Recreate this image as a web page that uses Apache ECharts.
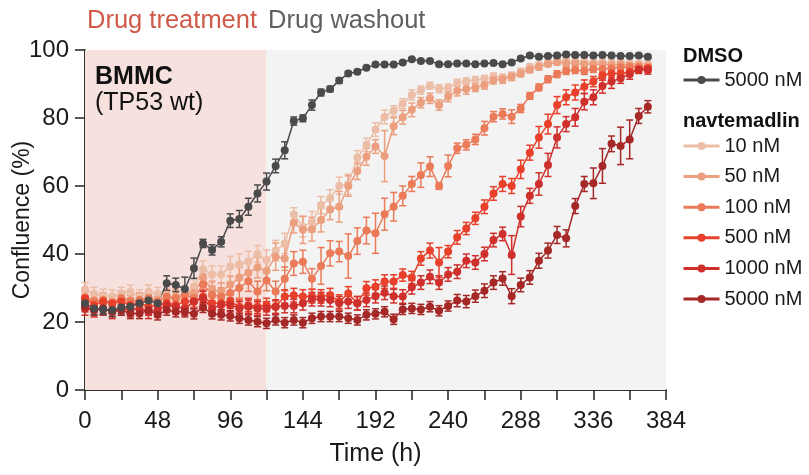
<!DOCTYPE html>
<html>
<head>
<meta charset="utf-8">
<script src="https://cdn.jsdelivr.net/npm/echarts@6/dist/echarts.min.js"></script>
<style>
html, body { margin: 0; padding: 0; background: #fff; }
#chart { width: 809px; height: 475px; }
</style>
</head>
<body>
<div id="chart"></div>
<script>
// time points (h)
var hours = [0, 6, 12, 18, 24, 30, 36, 42, 48, 54, 60, 66, 72, 78, 84, 90, 96, 102, 108, 114,
  120, 126, 132, 138, 144, 150, 156, 162, 168, 174, 180, 186, 192, 198, 204, 210, 216, 222, 228, 234,
  240, 246, 252, 258, 264, 270, 276, 282, 288, 294, 300, 306, 312, 318, 324, 330, 336, 342, 348, 354,
  360, 366, 372];

// treatment / washout phases (h)
var phases = [[0, 120], [120, 384]];
var phaseNames = ['Drug treatment', 'Drug washout'];

// confluence (%) and error
var dmso = [25.5, 24.0, 23.7, 23.5, 24.3, 24.5, 25.5, 26.3, 25.5, 31.4,
  30.9, 29.7, 35.8, 43.1, 41.2, 43.6, 49.8, 50.3, 53.9, 57.8,
  61.3, 65.9, 70.5, 79.1, 79.9, 83.8, 87.5, 88.5, 91.0, 93.1,
  93.6, 94.8, 95.7, 95.7, 95.7, 96.3, 97.3, 96.8, 96.8, 95.8,
  95.8, 96.0, 96.0, 95.8, 96.0, 96.2, 95.8, 96.3, 97.5, 98.4,
  98.0, 98.2, 98.4, 98.7, 98.5, 98.5, 98.4, 98.5, 98.4, 98.2,
  98.2, 98.4, 98.0];
var dmsoErr = [1.5, 1.8, 1.5, 1.8, 1.8, 2.5, 2, 1.8, 2, 2.2,
  2, 3.5, 3, 1.2, 1.5, 1.5, 2, 2.5, 2.5, 2.5,
  2.5, 2, 2.5, 1.2, 1, 1.5, 1, 0.8, 0.8, 0.6,
  0.5, 0.4, 0.4, 0.4, 0.4, 0.4, 0.4, 0.4, 0.4, 0.4,
  0.4, 0.4, 0.4, 0.4, 0.4, 0.4, 0.4, 0.4, 0.4, 0.4,
  0.4, 0.4, 0.4, 0.4, 0.4, 0.4, 0.4, 0.4, 0.4, 0.4,
  0.4, 0.4, 0.4];

var nav10 = [29.6, 28.2, 27.6, 27.5, 28.2, 28.9, 27.5, 28.9, 28.2, 28.0,
  25.8, 27.5, 30.4, 35.5, 34.0, 34.0, 36.3, 37.0, 37.8, 40.0,
  38.2, 41.0, 43.1, 51.6, 48.0, 49.5, 54.4, 56.4, 60.1, 60.5,
  68.4, 72.1, 76.6, 80.3, 82.1, 84.2, 86.8, 88.2, 89.5, 88.6,
  88.8, 90.4, 90.8, 91.2, 91.5, 92.2, 91.9, 92.4, 93.6, 95.1,
  95.6, 96.3, 96.8, 96.8, 96.8, 96.5, 96.5, 96.5, 96.3, 96.5,
  96.2, 96.0, 96.0];
var nav10Err = [2, 2, 2, 2, 2, 2, 2, 2, 2, 2,
  2, 2, 2.5, 2.5, 2.5, 2.5, 3, 3, 3, 2.5,
  3, 3, 3, 2, 3, 3, 2.5, 2.5, 2.5, 3,
  2, 2, 2, 2, 1.5, 1.5, 1.5, 1.2, 1, 1.2,
  1.2, 1, 1, 1, 1, 1, 1, 1, 1, 0.8,
  0.8, 0.8, 0.8, 0.8, 0.8, 0.8, 0.8, 0.8, 0.8, 0.8,
  0.8, 0.8, 0.8];

var nav50 = [27.5, 26.5, 26.0, 26.0, 27.0, 26.5, 26.0, 27.0, 26.5, 27.0,
  27.5, 28.0, 28.5, 33.0, 29.5, 29.0, 31.0, 33.0, 34.5, 36.0,
  35.0, 39.2, 38.7, 49.2, 47.1, 47.3, 50.0, 53.1, 53.9, 60.0,
  64.4, 68.6, 71.6, 68.8, 77.6, 80.2, 82.4, 84.5, 85.8, 83.8,
  86.3, 88.0, 88.5, 89.0, 89.7, 91.2, 91.4, 92.2, 93.1, 94.3,
  95.1, 95.9, 96.4, 96.0, 96.0, 95.8, 95.8, 95.8, 95.6, 95.8,
  95.5, 95.5, 95.3];
var nav50Err = [2, 2, 2, 2, 2, 2, 2, 2, 2, 2,
  2, 2, 2.5, 2.5, 2.5, 2.5, 2.5, 3, 3, 3,
  3, 4, 3.5, 3, 4, 3.5, 3.5, 3, 4.5, 3,
  2.5, 2.5, 2, 7.5, 2.5, 2, 2, 1.5, 1.5, 1.5,
  1.5, 1.5, 1.5, 1.2, 1.2, 1.2, 1.2, 1.2, 1, 1,
  1, 0.8, 0.8, 0.8, 0.8, 0.8, 0.8, 0.8, 0.8, 0.8,
  0.8, 0.8, 0.8];

var nav100 = [27.0, 26.0, 26.5, 25.5, 27.0, 26.0, 26.5, 27.0, 26.0, 27.5,
  27.0, 28.0, 27.0, 31.0, 28.0, 27.5, 28.5, 30.0, 32.0, 29.0,
  32.2, 29.0, 32.7, 37.2, 37.7, 32.7, 36.5, 40.2, 40.7, 39.4,
  43.8, 46.9, 46.1, 51.7, 53.9, 57.1, 60.6, 63.2, 65.7, 60.0,
  65.9, 71.1, 72.1, 73.7, 77.0, 80.4, 81.2, 80.4, 82.8, 86.5,
  89.0, 91.4, 92.9, 93.8, 94.1, 93.8, 94.4, 94.4, 94.6, 94.9,
  95.0, 95.0, 94.8];
var nav100Err = [2, 2, 2, 2, 2, 2, 2, 2, 2, 2,
  2, 2, 2.5, 3, 2.5, 2.5, 3, 3, 3, 3,
  3, 3, 3.5, 3.5, 3.4, 3, 5.4, 3.7, 3, 6.5,
  3.9, 3.9, 5.9, 4.7, 4.2, 2.9, 2.2, 3.6, 2.9, 1,
  3.2, 1.5, 1.5, 1.5, 2, 1.5, 1.5, 2, 1.2, 1,
  1, 1, 1, 1, 1, 1, 1, 1, 1, 1,
  1, 1, 1];

var nav500 = [27.0, 25.0, 26.0, 25.5, 26.0, 25.0, 25.5, 24.5, 25.0, 25.6,
  25.0, 26.0, 26.0, 27.4, 25.5, 25.5, 26.0, 24.5, 25.0, 24.5,
  25.0, 24.5, 27.5, 27.9, 27.5, 27.6, 27.5, 27.9, 26.0, 28.4,
  25.5, 29.9, 30.4, 31.9, 31.9, 33.8, 33.1, 38.7, 41.0, 37.5,
  40.7, 44.9, 47.5, 50.5, 53.9, 57.8, 60.6, 60.0, 64.9, 69.8,
  74.3, 78.2, 83.8, 86.1, 87.5, 89.2, 90.7, 92.6, 93.1, 93.1,
  93.6, 94.3, 94.6];
var nav500Err = [2, 2, 2, 2, 2, 2, 2, 2, 2, 2,
  2, 2, 2, 2, 2, 2, 2, 2, 2, 2,
  2, 2, 2, 2, 2, 2, 2, 2, 2, 2,
  2, 2, 2, 2, 2, 1.8, 1.8, 2, 2.2, 4.4,
  1.8, 2, 1.8, 1.8, 2, 2, 2.2, 2.2, 2.7, 2.2,
  3.2, 2.9, 2.5, 2.2, 2.2, 2, 1.5, 1.5, 1.2, 1.2,
  1, 1, 1];

var nav1000 = [24.0, 23.5, 24.0, 23.0, 24.0, 23.5, 24.0, 23.0, 23.5, 25.0,
  24.5, 24.0, 26.0, 27.0, 24.0, 25.0, 25.0, 24.0, 24.5, 24.0,
  24.0, 24.5, 24.7, 24.7, 25.5, 26.7, 26.7, 26.5, 25.5, 26.0,
  25.5, 26.5, 27.6, 28.6, 27.6, 27.5, 30.2, 31.6, 33.3, 31.6,
  34.0, 34.8, 38.0, 37.5, 40.0, 44.1, 45.9, 39.7, 51.0, 57.1,
  60.6, 66.2, 74.3, 78.2, 80.2, 84.8, 86.1, 89.4, 90.7, 91.7,
  92.9, 94.3, 94.1];
var nav1000Err = [2, 2, 2, 2, 2, 2, 2, 2, 2, 2,
  2, 2, 2, 2, 2, 2, 2, 2, 2, 2,
  2, 2, 2, 2, 2, 2, 2, 2, 2, 2,
  2, 2, 2, 2, 2, 2, 2, 2, 2, 2,
  2, 2, 2, 2, 2, 2, 2, 5.7, 3, 2.2,
  3.3, 3.4, 3.1, 2.2, 2.6, 2.4, 2.2, 2.1, 2, 1.5,
  1.5, 1.2, 1.2];

var nav5000 = [24.5, 23.5, 24.0, 23.0, 23.5, 22.5, 22.5, 23.5, 22.1, 23.5,
  23.0, 23.0, 22.4, 24.3, 22.4, 22.1, 21.8, 21.1, 20.6, 20.1,
  19.6, 20.6, 19.8, 20.6, 19.8, 21.1, 21.6, 21.6, 21.6, 21.1,
  20.6, 22.1, 22.4, 23.0, 20.8, 23.7, 24.0, 23.7, 24.5, 23.3,
  24.7, 26.3, 26.0, 27.6, 29.2, 31.6, 32.8, 27.6, 30.9, 33.1,
  38.0, 41.0, 45.6, 44.6, 54.1, 60.6, 60.8, 65.9, 72.4, 71.8,
  73.7, 80.6, 83.3];
var nav5000Err = [1.5, 1.5, 1.5, 1.5, 1.5, 1.5, 1.5, 1.5, 1.5, 1.5,
  1.5, 1.5, 1.5, 1.5, 1.5, 1.5, 1.5, 1.5, 1.5, 1.5,
  1.5, 1.5, 1.5, 1.5, 1.5, 1.5, 1.5, 1.5, 1.5, 1.5,
  1.5, 1.5, 1.5, 1.5, 1.5, 1.5, 1.5, 1.5, 1.5, 1.5,
  1.5, 1.8, 1.8, 1.8, 2, 2, 2, 2.2, 2, 2,
  2.2, 2.2, 2.5, 2.5, 2.2, 2.2, 4.5, 5.1, 2.3, 5.5,
  5.7, 2.2, 1.8];

var navNames = ['10 nM', '50 nM', '100 nM', '500 nM', '1000 nM', '5000 nM'];
var dmsoName = 'DMSO 5000 nM';

var FONT = '"Liberation Sans", Arial, Helvetica, sans-serif';

var groups = [
  { name: navNames[0], vals: nav10, errs: nav10Err, color: '#EDBEA7' },
  { name: navNames[1], vals: nav50, errs: nav50Err, color: '#EC9F7E' },
  { name: navNames[2], vals: nav100, errs: nav100Err, color: '#EA7A58' },
  { name: navNames[3], vals: nav500, errs: nav500Err, color: '#E8402A' },
  { name: navNames[4], vals: nav1000, errs: nav1000Err, color: '#D0302C' },
  { name: navNames[5], vals: nav5000, errs: nav5000Err, color: '#A52827' },
  { name: dmsoName, vals: dmso, errs: dmsoErr, color: '#4A4A4A' }
];

// error bar with caps
function renderErr(params, api) {
  var x = api.value(0), y = api.value(1), e = api.value(2);
  var lo = api.coord([x, y - e]);
  var hi = api.coord([x, y + e]);
  var w = 3.5;
  var st = { stroke: api.visual('color'), lineWidth: 1.5, fill: null };
  return {
    type: 'group',
    children: [
      { type: 'line', shape: { x1: lo[0], y1: lo[1], x2: hi[0], y2: hi[1] }, style: st },
      { type: 'line', shape: { x1: lo[0] - w, y1: lo[1], x2: lo[0] + w, y2: lo[1] }, style: st },
      { type: 'line', shape: { x1: hi[0] - w, y1: hi[1], x2: hi[0] + w, y2: hi[1] }, style: st }
    ]
  };
}

var series = [{
  type: 'line',
  name: 'phases',
  data: [],
  z: 0,
  silent: true,
  markArea: {
    silent: true,
    data: [
      [{ xAxis: phases[0][0], itemStyle: { color: '#F7E1DF' } }, { xAxis: phases[0][1] }],
      [{ xAxis: phases[1][0], itemStyle: { color: '#F3F3F3' } }, { xAxis: phases[1][1] }]
    ]
  }
}];

groups.forEach(function (g) {
  series.push({
    type: 'custom',
    name: g.name + ' err',
    renderItem: renderErr,
    itemStyle: { color: g.color },
    data: hours.map(function (h, i) { return [h, g.vals[i], g.errs[i]]; }),
    z: 2,
    silent: true
  });
  series.push({
    type: 'line',
    name: g.name,
    data: hours.map(function (h, i) { return [h, g.vals[i]]; }),
    symbol: 'circle',
    symbolSize: 8,
    showSymbol: true,
    lineStyle: { width: 1.5, color: g.color },
    itemStyle: { color: g.color },
    emphasis: { disabled: true },
    z: 2
  });
});

var legendText = { fontSize: 20, color: '#1a1a1a', fontFamily: FONT };

var option = {
  animation: false,
  backgroundColor: '#ffffff',
  grid: { left: 85, right: 143, top: 50, bottom: 85, outerBoundsMode: 'none' },
  xAxis: {
    type: 'value',
    min: 0,
    max: 384,
    interval: 24,
    name: 'Time (h)',
    nameLocation: 'middle',
    nameGap: 52,
    nameMoveOverlap: false,
    nameTextStyle: { fontSize: 25, color: '#1a1a1a', fontFamily: FONT },
    axisLine: { lineStyle: { color: '#333', width: 2 } },
    axisTick: { length: 10, lineStyle: { color: '#222', width: 1.5 } },
    axisLabel: {
      fontSize: 24, color: '#1a1a1a', fontFamily: FONT, margin: 19,
      formatter: function (v) { return v % 48 === 0 ? String(v) : ''; }
    },
    splitLine: { show: false }
  },
  yAxis: {
    type: 'value',
    min: 0,
    max: 100,
    interval: 20,
    name: 'Confluence (%)',
    nameLocation: 'middle',
    nameGap: 51,
    nameMoveOverlap: false,
    nameTextStyle: { fontSize: 23, color: '#1a1a1a', fontFamily: FONT },
    axisLine: { show: true, lineStyle: { color: '#333', width: 2 } },
    axisTick: { show: true, length: 10, lineStyle: { color: '#222', width: 1.5 } },
    axisLabel: { fontSize: 24, color: '#1a1a1a', fontFamily: FONT, margin: 16 },
    splitLine: { show: false }
  },
  legend: [{
    data: [dmsoName],
    left: 682,
    top: 70,
    padding: 0,
    itemWidth: 36,
    itemHeight: 10,
    lineStyle: { width: 3 },
    textStyle: legendText,
    formatter: function () { return '5000 nM'; },
    selectedMode: false
  }, {
    data: navNames,
    orient: 'vertical',
    left: 682,
    top: 136,
    padding: 0,
    itemGap: 10.6,
    itemWidth: 36,
    itemHeight: 10,
    lineStyle: { width: 3 },
    textStyle: legendText,
    selectedMode: false
  }],
  graphic: [
    {
      type: 'text', left: 87, top: 8, z: 100,
      style: {
        text: '{a|' + phaseNames[0] + '}{b|' + phaseNames[1] + '}',
        rich: {
          a: { fontSize: 25.5, fill: '#CF5A49', fontFamily: FONT },
          b: { fontSize: 25.5, fill: '#5F5F5F', fontFamily: FONT, padding: [0, 0, 0, 11] }
        }
      }
    },
    { type: 'text', left: 95, top: 65, z: 100, style: { text: 'BMMC', fontSize: 25, fontWeight: 'bold', fill: '#111', fontFamily: FONT } },
    { type: 'text', left: 95, top: 91, z: 100, style: { text: '(TP53 wt)', fontSize: 25, fill: '#111', fontFamily: FONT } },
    { type: 'text', left: 683, top: 46, z: 100, style: { text: 'DMSO', fontSize: 20, fontWeight: 'bold', fill: '#111', fontFamily: FONT } },
    { type: 'text', left: 683, top: 111, z: 100, style: { text: 'navtemadlin', fontSize: 20, fontWeight: 'bold', fill: '#111', fontFamily: FONT } }
  ],
  series: series
};

var chart = echarts.init(document.getElementById('chart'));
chart.setOption(option);
</script>
</body>
</html>
